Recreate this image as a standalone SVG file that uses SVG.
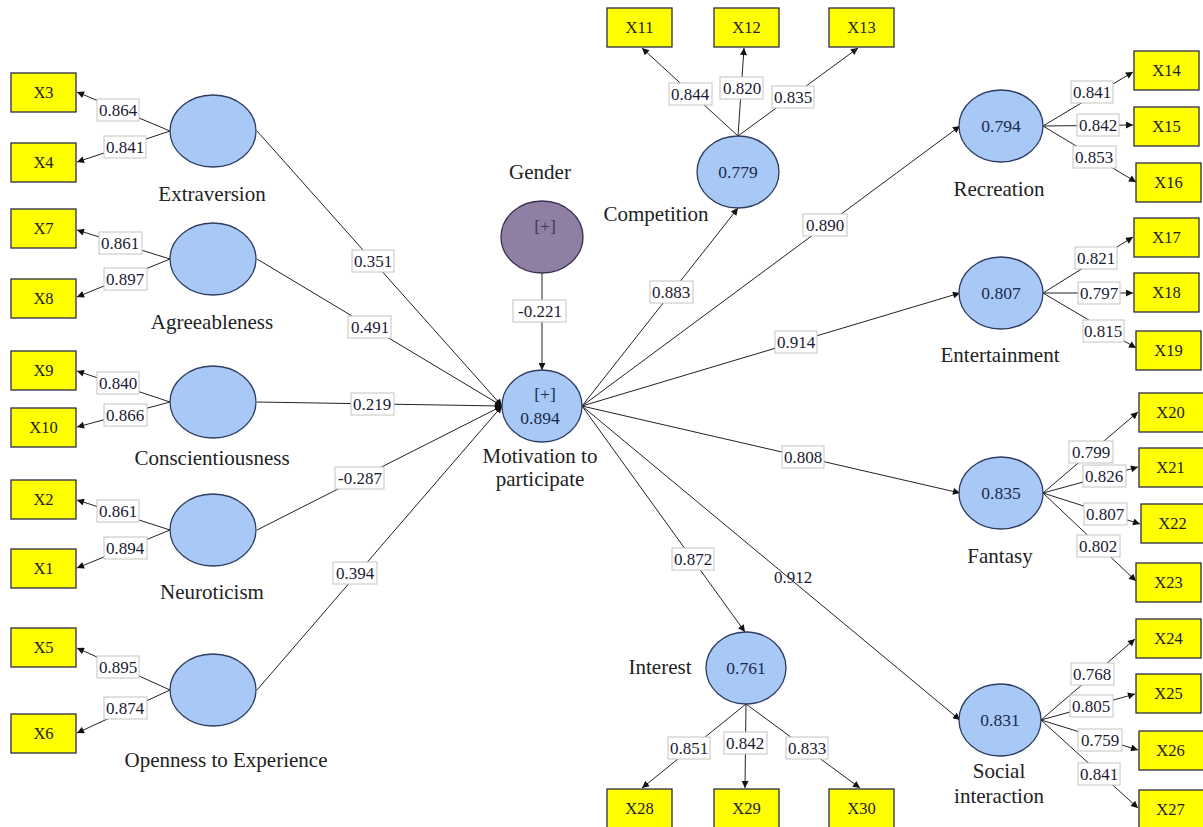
<svg xmlns="http://www.w3.org/2000/svg" width="1203" height="827" viewBox="0 0 1203 827">
<defs>
<marker id="arr" viewBox="0 0 10 10" refX="10" refY="5" markerWidth="9" markerHeight="7" orient="auto" markerUnits="userSpaceOnUse"><path d="M0,0 L10,5 L0,10 z" fill="#111"/></marker>
<style>
.ln{stroke:#222;stroke-width:1;fill:none;marker-end:url(#arr)}
.lv{fill:#a8c8f6;stroke:#2d3c60;stroke-width:1.3}
.gd{fill:#8f80a3;stroke:#3a3050;stroke-width:1.3}
.bx{fill:#ffff00;stroke:#2b2b45;stroke-width:1.3}
.bt{font-family:'Liberation Serif','Times New Roman',serif;font-size:16.5px;fill:#222;text-anchor:middle}
.lb{fill:#fff;stroke:#c4c4c4;stroke-width:1}
.lt{font-family:'Liberation Serif','Times New Roman',serif;font-size:17px;fill:#1b1b33;text-anchor:middle}
.vt{font-family:'Liberation Serif','Times New Roman',serif;font-size:17.5px;fill:#1b2a4f;text-anchor:middle}
.nm{font-family:'Liberation Serif','Times New Roman',serif;font-size:21px;fill:#222;text-anchor:middle}
</style>
</defs>
<rect width="1203" height="827" fill="#fff"/>

<g id="connectors">
<!-- left indicators -->
<line class="ln" x1="170" y1="131" x2="77" y2="92"/>
<line class="ln" x1="170" y1="131" x2="77" y2="162"/>
<line class="ln" x1="170" y1="259" x2="77" y2="230"/>
<line class="ln" x1="170" y1="259" x2="77" y2="297"/>
<line class="ln" x1="170" y1="402" x2="77" y2="371"/>
<line class="ln" x1="170" y1="402" x2="77" y2="427"/>
<line class="ln" x1="170" y1="530" x2="77" y2="500"/>
<line class="ln" x1="170" y1="530" x2="77" y2="568"/>
<line class="ln" x1="170" y1="690" x2="77" y2="648"/>
<line class="ln" x1="170" y1="690" x2="77" y2="733"/>
<!-- structural in -->
<line class="ln" x1="257" y1="131" x2="502" y2="406"/>
<line class="ln" x1="257" y1="259" x2="502" y2="406"/>
<line class="ln" x1="257" y1="402" x2="502" y2="406"/>
<line class="ln" x1="257" y1="530" x2="502" y2="406"/>
<line class="ln" x1="257" y1="690" x2="502" y2="406"/>
<line class="ln" x1="542" y1="272" x2="542" y2="370"/>
<!-- structural out -->
<line class="ln" x1="582" y1="406" x2="738" y2="208"/>
<line class="ln" x1="582" y1="406" x2="960" y2="126"/>
<line class="ln" x1="582" y1="406" x2="960" y2="293"/>
<line class="ln" x1="582" y1="406" x2="960" y2="493"/>
<line class="ln" x1="582" y1="406" x2="960" y2="720"/>
<line class="ln" x1="582" y1="406" x2="745" y2="632"/>
<!-- competition -->
<line class="ln" x1="738" y1="136" x2="642" y2="48"/>
<line class="ln" x1="738" y1="136" x2="744" y2="48"/>
<line class="ln" x1="738" y1="136" x2="858" y2="48"/>
<!-- recreation -->
<line class="ln" x1="1043" y1="126" x2="1133" y2="72"/>
<line class="ln" x1="1043" y1="126" x2="1133" y2="125"/>
<line class="ln" x1="1043" y1="126" x2="1136" y2="182"/>
<!-- entertainment -->
<line class="ln" x1="1043" y1="293" x2="1133" y2="237"/>
<line class="ln" x1="1043" y1="293" x2="1133" y2="293"/>
<line class="ln" x1="1043" y1="293" x2="1136" y2="348"/>
<!-- fantasy -->
<line class="ln" x1="1043" y1="493" x2="1138" y2="412"/>
<line class="ln" x1="1043" y1="493" x2="1138" y2="467"/>
<line class="ln" x1="1043" y1="493" x2="1140" y2="524"/>
<line class="ln" x1="1043" y1="493" x2="1136" y2="581"/>
<!-- social -->
<line class="ln" x1="1041" y1="720" x2="1135" y2="639"/>
<line class="ln" x1="1041" y1="720" x2="1135" y2="694"/>
<line class="ln" x1="1041" y1="720" x2="1138" y2="750"/>
<line class="ln" x1="1041" y1="720" x2="1138" y2="808"/>
<!-- interest -->
<line class="ln" x1="746" y1="704" x2="642" y2="788"/>
<line class="ln" x1="746" y1="704" x2="745" y2="788"/>
<line class="ln" x1="746" y1="704" x2="860" y2="788"/>

<!-- labels -->
<g id="labels">
<rect class="lb" x="97" y="99" width="42" height="22"/><text class="lt" x="118" y="116">0.864</text>
<rect class="lb" x="104" y="136" width="42" height="22"/><text class="lt" x="125" y="153">0.841</text>
<rect class="lb" x="99" y="232" width="43" height="22"/><text class="lt" x="120" y="249">0.861</text>
<rect class="lb" x="104" y="268" width="43" height="22"/><text class="lt" x="125" y="285">0.897</text>
<rect class="lb" x="97" y="372" width="42" height="22"/><text class="lt" x="118" y="389">0.840</text>
<rect class="lb" x="104" y="404" width="43" height="22"/><text class="lt" x="125" y="421">0.866</text>
<rect class="lb" x="97" y="500" width="42" height="22"/><text class="lt" x="118" y="517">0.861</text>
<rect class="lb" x="104" y="537" width="43" height="22"/><text class="lt" x="125" y="554">0.894</text>
<rect class="lb" x="97" y="656" width="42" height="22"/><text class="lt" x="118" y="673">0.895</text>
<rect class="lb" x="104" y="697" width="43" height="22"/><text class="lt" x="125" y="714">0.874</text>

<rect class="lb" x="352" y="250" width="42" height="22"/><text class="lt" x="373" y="267">0.351</text>
<rect class="lb" x="348" y="316" width="43" height="22"/><text class="lt" x="370" y="333">0.491</text>
<rect class="lb" x="351" y="393" width="43" height="22"/><text class="lt" x="372" y="410">0.219</text>
<rect class="lb" x="335" y="467" width="49" height="22"/><text class="lt" x="360" y="484">-0.287</text>
<rect class="lb" x="333" y="562" width="44" height="22"/><text class="lt" x="355" y="579">0.394</text>
<rect class="lb" x="513" y="300" width="53" height="22"/><text class="lt" x="540" y="317">-0.221</text>

<rect class="lb" x="650" y="281" width="43" height="22"/><text class="lt" x="671" y="298">0.883</text>
<rect class="lb" x="803" y="214" width="44" height="22"/><text class="lt" x="825" y="231">0.890</text>
<rect class="lb" x="775" y="331" width="42" height="22"/><text class="lt" x="796" y="348">0.914</text>
<rect class="lb" x="782" y="446" width="42" height="22"/><text class="lt" x="803" y="463">0.808</text>
<text class="lt" x="793" y="583">0.912</text>
<rect class="lb" x="672" y="548" width="42" height="22"/><text class="lt" x="693" y="565">0.872</text>

<rect class="lb" x="669" y="83" width="43" height="22"/><text class="lt" x="690" y="100">0.844</text>
<rect class="lb" x="720" y="77" width="43" height="22"/><text class="lt" x="742" y="94">0.820</text>
<rect class="lb" x="772" y="86" width="42" height="22"/><text class="lt" x="793" y="103">0.835</text>

<rect class="lb" x="1071" y="81" width="42" height="22"/><text class="lt" x="1092" y="98">0.841</text>
<rect class="lb" x="1077" y="114" width="42" height="22"/><text class="lt" x="1098" y="131">0.842</text>
<rect class="lb" x="1073" y="146" width="43" height="22"/><text class="lt" x="1094" y="163">0.853</text>

<rect class="lb" x="1075" y="247" width="42" height="22"/><text class="lt" x="1096" y="264">0.821</text>
<rect class="lb" x="1078" y="282" width="42" height="22"/><text class="lt" x="1099" y="299">0.797</text>
<rect class="lb" x="1083" y="320" width="41" height="22"/><text class="lt" x="1103" y="337">0.815</text>

<rect class="lb" x="1069" y="441" width="44" height="22"/><text class="lt" x="1091" y="458">0.799</text>
<rect class="lb" x="1083" y="465" width="43" height="22"/><text class="lt" x="1104" y="482">0.826</text>
<rect class="lb" x="1084" y="503" width="43" height="22"/><text class="lt" x="1105" y="520">0.807</text>
<rect class="lb" x="1077" y="535" width="43" height="22"/><text class="lt" x="1098" y="552">0.802</text>

<rect class="lb" x="1071" y="663" width="43" height="22"/><text class="lt" x="1092" y="680">0.768</text>
<rect class="lb" x="1070" y="695" width="43" height="22"/><text class="lt" x="1091" y="712">0.805</text>
<rect class="lb" x="1078" y="729" width="44" height="22"/><text class="lt" x="1100" y="746">0.759</text>
<rect class="lb" x="1078" y="763" width="42" height="22"/><text class="lt" x="1099" y="780">0.841</text>

<rect class="lb" x="668" y="737" width="42" height="22"/><text class="lt" x="689" y="754">0.851</text>
<rect class="lb" x="724" y="732" width="43" height="22"/><text class="lt" x="745" y="749">0.842</text>
<rect class="lb" x="786" y="737" width="42" height="22"/><text class="lt" x="807" y="754">0.833</text>
</g>
</g>

<!-- left latent variables -->
<g id="extraversion"><ellipse class="lv" cx="213" cy="131" rx="43" ry="36"/><text class="nm" x="212" y="201">Extraversion</text></g>
<g id="agreeableness"><ellipse class="lv" cx="213" cy="259" rx="43" ry="36"/><text class="nm" x="212" y="329">Agreeableness</text></g>
<g id="conscientiousness"><ellipse class="lv" cx="213" cy="402" rx="43" ry="36"/><text class="nm" x="212" y="465">Conscientiousness</text></g>
<g id="neuroticism"><ellipse class="lv" cx="213" cy="530" rx="43" ry="36"/><text class="nm" x="212" y="599">Neuroticism</text></g>
<g id="openness"><ellipse class="lv" cx="213" cy="690" rx="43" ry="36"/><text class="nm" x="226" y="767">Openness to Experience</text></g>

<!-- center -->
<g id="gender"><ellipse class="gd" cx="542" cy="237" rx="41" ry="36"/><text class="vt" x="545" y="232" style="fill:#43355a">[+]</text><text class="nm" x="540" y="179">Gender</text></g>
<g id="motivation"><ellipse class="lv" cx="542" cy="406" rx="40" ry="36"/><text class="vt" x="545" y="400">[+]</text><text class="vt" x="540" y="424">0.894</text><text class="nm" x="540" y="463">Motivation to</text><text class="nm" x="540" y="486">participate</text></g>

<g id="competition"><ellipse class="lv" cx="738" cy="172" rx="41" ry="36"/><text class="vt" x="738" y="178">0.779</text><text class="nm" x="656" y="221">Competition</text></g>
<g id="recreation"><ellipse class="lv" cx="1001" cy="126" rx="42" ry="36"/><text class="vt" x="1001" y="132">0.794</text><text class="nm" x="999" y="196">Recreation</text></g>
<g id="entertainment"><ellipse class="lv" cx="1001" cy="293" rx="42" ry="36"/><text class="vt" x="1001" y="299">0.807</text><text class="nm" x="1000" y="362">Entertainment</text></g>
<g id="fantasy"><ellipse class="lv" cx="1001" cy="493" rx="42" ry="36"/><text class="vt" x="1001" y="499">0.835</text><text class="nm" x="1000" y="563">Fantasy</text></g>
<g id="social"><ellipse class="lv" cx="1000" cy="720" rx="41" ry="36"/><text class="vt" x="1000" y="726">0.831</text><text class="nm" x="999" y="778">Social</text><text class="nm" x="999" y="803">interaction</text></g>
<g id="interest"><ellipse class="lv" cx="746" cy="668" rx="40" ry="36"/><text class="vt" x="746" y="674">0.761</text><text class="nm" x="660" y="674">Interest</text></g>

<!-- indicators -->
<g id="x3"><rect class="bx" x="11" y="73" width="65" height="39"/><text class="bt" x="43.5" y="98">X3</text></g>
<g id="x4"><rect class="bx" x="11" y="143" width="65" height="39"/><text class="bt" x="43.5" y="168">X4</text></g>
<g id="x7"><rect class="bx" x="11" y="209" width="65" height="39"/><text class="bt" x="43.5" y="234">X7</text></g>
<g id="x8"><rect class="bx" x="11" y="279" width="65" height="39"/><text class="bt" x="43.5" y="304">X8</text></g>
<g id="x9"><rect class="bx" x="11" y="351" width="65" height="39"/><text class="bt" x="43.5" y="376">X9</text></g>
<g id="x10"><rect class="bx" x="11" y="408" width="65" height="39"/><text class="bt" x="43.5" y="433">X10</text></g>
<g id="x2"><rect class="bx" x="11" y="480" width="65" height="39"/><text class="bt" x="43.5" y="505">X2</text></g>
<g id="x1"><rect class="bx" x="11" y="549" width="65" height="39"/><text class="bt" x="43.5" y="574">X1</text></g>
<g id="x5"><rect class="bx" x="11" y="628" width="65" height="39"/><text class="bt" x="43.5" y="653">X5</text></g>
<g id="x6"><rect class="bx" x="11" y="714" width="65" height="39"/><text class="bt" x="43.5" y="739">X6</text></g>

<g id="x11"><rect class="bx" x="607" y="8" width="65" height="39"/><text class="bt" x="639.5" y="33">X11</text></g>
<g id="x12"><rect class="bx" x="714" y="8" width="65" height="39"/><text class="bt" x="746.5" y="33">X12</text></g>
<g id="x13"><rect class="bx" x="829" y="8" width="65" height="39"/><text class="bt" x="861.5" y="33">X13</text></g>

<g id="x14"><rect class="bx" x="1134" y="51" width="65" height="39"/><text class="bt" x="1166.5" y="76">X14</text></g>
<g id="x15"><rect class="bx" x="1134" y="107" width="65" height="39"/><text class="bt" x="1166.5" y="132">X15</text></g>
<g id="x16"><rect class="bx" x="1136" y="163" width="65" height="39"/><text class="bt" x="1168.5" y="188">X16</text></g>
<g id="x17"><rect class="bx" x="1134" y="218" width="65" height="39"/><text class="bt" x="1166.5" y="243">X17</text></g>
<g id="x18"><rect class="bx" x="1134" y="273" width="65" height="39"/><text class="bt" x="1166.5" y="298">X18</text></g>
<g id="x19"><rect class="bx" x="1136" y="331" width="65" height="39"/><text class="bt" x="1168.5" y="356">X19</text></g>
<g id="x20"><rect class="bx" x="1139" y="393" width="65" height="39"/><text class="bt" x="1170.5" y="418">X20</text></g>
<g id="x21"><rect class="bx" x="1139" y="448" width="65" height="39"/><text class="bt" x="1170.5" y="473">X21</text></g>
<g id="x22"><rect class="bx" x="1141" y="504" width="65" height="39"/><text class="bt" x="1172.5" y="529">X22</text></g>
<g id="x23"><rect class="bx" x="1136" y="563" width="65" height="39"/><text class="bt" x="1168.5" y="588">X23</text></g>
<g id="x24"><rect class="bx" x="1136" y="619" width="65" height="39"/><text class="bt" x="1168.5" y="644">X24</text></g>
<g id="x25"><rect class="bx" x="1136" y="674" width="65" height="39"/><text class="bt" x="1168.5" y="699">X25</text></g>
<g id="x26"><rect class="bx" x="1139" y="731" width="65" height="39"/><text class="bt" x="1170.5" y="756">X26</text></g>
<g id="x27"><rect class="bx" x="1139" y="790" width="65" height="39"/><text class="bt" x="1170.5" y="815">X27</text></g>

<g id="x28"><rect class="bx" x="607" y="789" width="65" height="39"/><text class="bt" x="639.5" y="814">X28</text></g>
<g id="x29"><rect class="bx" x="714" y="789" width="65" height="39"/><text class="bt" x="746.5" y="814">X29</text></g>
<g id="x30"><rect class="bx" x="829" y="789" width="65" height="39"/><text class="bt" x="861.5" y="814">X30</text></g>
</svg>
